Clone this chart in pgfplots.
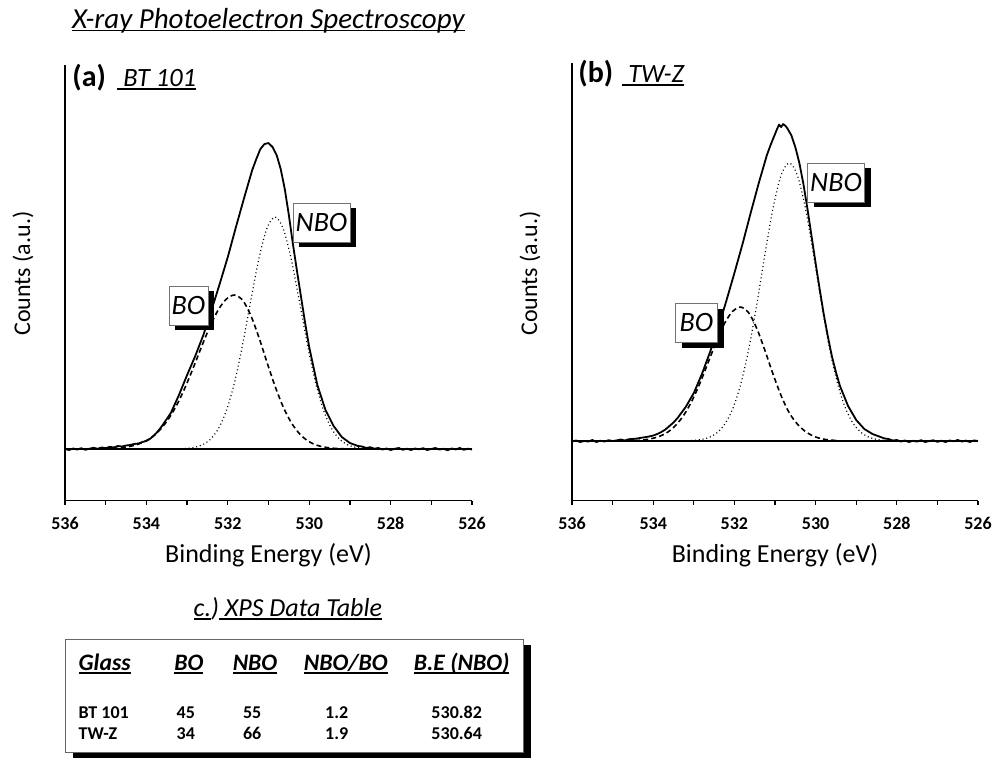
\documentclass[border=0pt]{standalone}
\usepackage{fontspec}
\setmainfont{Carlito}
\usepackage{graphicx}
\usepackage{pgfplots}
\pgfplotsset{compat=1.18}
\newcommand{\fs}[1]{\fontsize{#1}{#1}\selectfont}
% underline: text box plus a rule below the baseline
\newsavebox{\ulbox}
\newcommand{\ul}[1]{\sbox{\ulbox}{#1}\rlap{\usebox{\ulbox}}\rule[-1.6pt]{\wd\ulbox}{0.9pt}}

\pgfplotsset{
  xps/.style={
    scale only axis, x dir=reverse, xmin=526, xmax=536,
    axis x line*=bottom, axis y line*=left,
    axis line style={black, line width=0.8pt, -},
    xtick={526,528,...,536}, minor x tick num=1,
    tick align=outside, major tick length=2.2pt, minor tick length=2pt,
    tick style={black, line width=0.6pt},
    ytick=\empty,
    /pgf/number format/assume math mode=true,
    xticklabel style={font=\fs{9}\bfseries, inner sep=1pt, yshift=-5pt},
    clip=false, no markers,
  },
  total/.style={black, line width=0.9pt, line join=round},
  base/.style={black, line width=0.7pt},
  bo/.style={black, line width=0.8pt, dash pattern=on 2.5pt off 1.6pt, smooth},
  nbo/.style={black, line width=0.6pt, dash pattern=on 0.5pt off 1.4pt, smooth},
}

\begin{document}
\begin{tikzpicture}[x=0.5pt,y=0.5pt]
\useasboundingbox (0,0) rectangle (1004,758);

% ---------------- (a) BT 101
\begin{axis}[xps, at={(32.5pt,128.65pt)}, anchor=south west,
  width=203.5pt, height=217.8pt, ymin=-51.7, ymax=384]
\addplot[base] coordinates {(536,0) (526,0)};
\addplot[bo] coordinates {
(535.03,0.2)(534.83,0.6)(534.63,1.2)(534.43,2.4)(534.23,4.4)(534.03,7.8)
(533.83,13.0)(533.63,20.8)(533.43,31.7)(533.23,45.9)(533.03,63.3)(532.83,83.1)
(532.63,103.8)(532.43,123.3)(532.23,139.5)(532.03,150.2)(531.83,154)(531.63,148.5)
(531.43,133.1)(531.23,110.9)(531.03,85.8)(530.83,61.8)(530.63,41.3)(530.43,25.7)
(530.23,14.9)(530.03,8.0)(529.83,4.0)(529.63,1.9)(529.43,0.8)(529.23,0.3)(529.03,0.1)};
\addplot[nbo] coordinates {
(533.24,0.2)(533.04,0.5)(532.84,1.5)(532.64,3.9)(532.44,9.2)(532.24,19.7)
(532.04,37.8)(531.84,65.8)(531.64,103.6)(531.44,147.4)(531.24,189.6)(531.04,220.6)
(530.84,232)(530.64,220.6)(530.44,189.6)(530.24,147.4)(530.04,103.6)(529.84,65.8)
(529.64,37.8)(529.44,19.7)(529.24,9.2)(529.04,3.9)(528.84,1.5)(528.64,0.5)(528.44,0.2)};
\addplot[total] coordinates {
(536.0,0)(535.9,-1)(535.8,0.5)(535.7,-0.5)(535.6,0.8)(535.5,-0.8)(535.4,0.3)
(535.3,1.2)(535.2,0.2)(535.1,1.5)(535.0,0.8)(534.9,2.2)(534.8,1.5)(534.7,3)
(534.6,2.5)(534.5,3.5)(534.4,4)(534.3,5)(534.2,5.5)(534.1,7)(534.0,8)
(533.9,10.5)(533.8,14)(533.7,18.5)(533.6,24)(533.4,36)(533.2,54)(533.0,74)
(532.8,93)(532.6,114)(532.4,139)(532.2,165)(532.0,192)(531.8,222)(531.6,251)
(531.4,279)(531.3,290)(531.2,300)(531.1,305)(531.0,306)(530.9,302)(530.8,294)
(530.7,280)(530.6,260)(530.5,234)(530.4,205)(530.3,178)(530.2,152)(530.1,126)
(530.0,102)(529.8,64)(529.6,39)(529.4,23)(529.2,12)(529.0,6)(528.9,4.5)
(528.8,3)(528.7,2.5)(528.6,1)(528.5,1.8)(528.4,0.3)(528.3,1)(528.2,-0.5)
(528.1,0.5)(528.0,-1)(527.9,0.2)(527.8,1)(527.7,-0.8)(527.6,0.3)(527.5,-1)
(527.4,0.5)(527.3,-0.3)(527.2,0.8)(527.1,-1)(527.0,0)(526.9,1)(526.8,-0.5)
(526.7,0.2)(526.6,-1.2)(526.5,0.5)(526.4,-0.4)(526.3,1)(526.2,-0.8)(526.1,0.3)(526.0,-0.5)};
\end{axis}

% ---------------- (b) TW-Z
\begin{axis}[xps, at={(286pt,128.65pt)}, anchor=south west,
  width=203pt, height=218.8pt, ymin=-59.7, ymax=378]
\addplot[base] coordinates {(536,0) (526,0)};
\addplot[bo] coordinates {
(534.65,0.2)(534.45,0.45)(534.25,1.0)(534.05,2.3)(533.85,4.6)(533.65,8.7)
(533.45,15.5)(533.25,25.7)(533.05,39.8)(532.85,57.7)(532.65,78.1)(532.45,98.9)
(532.25,117.1)(532.05,129.5)(531.85,134)(531.65,128.3)(531.45,112.7)(531.25,90.8)
(531.05,67.1)(530.85,45.4)(530.65,28.2)(530.45,17)(530.25,9.5)(530.05,4.8)
(529.85,2.2)(529.65,1.0)(529.45,0.4)};
\addplot[nbo] coordinates {
(533.25,0.15)(533.05,0.5)(532.85,1.3)(532.65,3.2)(532.45,7.5)(532.25,16.1)
(532.05,31.3)(531.85,55.9)(531.65,91.3)(531.45,136.3)(531.25,186.2)(531.05,232.6)
(530.85,265.9)(530.65,278)(530.45,265.9)(530.25,232.6)(530.05,186.2)(529.85,136.3)
(529.65,91.3)(529.45,55.9)(529.25,31.3)(529.05,16.1)(528.85,7.5)(528.65,3.2)
(528.45,1.3)(528.25,0.5)(528.05,0.15)};
\addplot[total] coordinates {
(536.0,-0.5)(535.9,0.5)(535.8,-1)(535.7,0)(535.6,-0.5)(535.5,1)(535.4,-1)
(535.3,0.3)(535.2,-0.5)(535.1,0.8)(535.0,0)(534.9,0.6)(534.8,1.5)(534.7,0.5)
(534.6,1.8)(534.5,2)(534.4,2.5)(534.3,3.2)(534.2,3.8)(534.1,4.5)(534.0,5.5)
(533.9,7)(533.8,9)(533.7,11.5)(533.6,15)(533.5,18.5)(533.4,23)(533.2,34)
(533.0,48)(532.8,67)(532.6,89)(532.4,113)(532.2,140)(532.0,168)(531.8,197)
(531.6,228)(531.4,258)(531.2,286)(531.1,297)(531.0,307)(530.95,312)(530.9,316.5)
(530.85,314)(530.8,317)(530.75,315.5)(530.7,313)(530.6,306)(530.5,294)(530.4,278)
(530.3,257)(530.2,232)(530.1,205)(530.0,178)(529.9,152)(529.8,127)(529.7,105)
(529.6,85)(529.5,69)(529.4,55)(529.2,35)(529.0,21)(528.8,12)(528.6,7)
(528.4,4)(528.3,2.5)(528.2,2)(528.1,0.5)(528.0,1)(527.9,-0.5)(527.8,0.5)
(527.7,-1)(527.6,0.2)(527.5,-0.6)(527.4,0.8)(527.3,-1)(527.2,0)(527.1,0.7)
(527.0,-0.8)(526.9,0.3)(526.8,-1)(526.7,0.5)(526.6,-0.3)(526.5,1)(526.4,-0.5)
(526.3,0.4)(526.2,-1)(526.1,0.6)(526.0,0)};
\end{axis}

% ---------------- titles and labels
\node[anchor=base west, font=\fs{14.5}\itshape, inner sep=0pt] at (71.7,729.7)
  {\ul{X-ray Photoelectron Spectroscopy}};
\node[anchor=base west, font=\fs{15}\bfseries, inner sep=0pt] at (72,671) {(a)};
\node[anchor=base west, font=\fs{13.2}\itshape, inner sep=0pt] at (117,671) {\ul{~BT 101}};
\node[anchor=base west, font=\fs{15}\bfseries, inner sep=0pt] at (578,675.5) {(b)};
\node[anchor=base west, font=\fs{13.2}\itshape, inner sep=0pt] at (622,675.5) {\ul{~TW-Z}};

\node[anchor=base, rotate=90, font=\fs{12}, inner sep=0pt] at (30,484.5) {Counts (a.u.)};
\node[anchor=base, rotate=90, font=\fs{12}, inner sep=0pt] at (537,484.5) {Counts (a.u.)};
\node[anchor=base, font=\fs{13}, inner sep=0pt] at (268.5,195.3) {Binding Energy (eV)};
\node[anchor=base, font=\fs{13}, inner sep=0pt] at (775,195.3) {Binding Energy (eV)};

% peak labels with drop shadows
\tikzset{lbl/.style={draw=black!55, line width=0.4pt, fill=white, font=\fs{14}\itshape,
  inner sep=0pt, minimum height=19.5pt},
  shd/.style={fill=black, inner sep=0pt, minimum height=19.5pt}}
\node[shd, minimum width=19.5pt] at (194.5,447) {};
\node[lbl, minimum width=19.5pt] at (188.5,452.5) {BO};
\node[shd, minimum width=28.5pt] at (327.5,530) {};
\node[lbl, minimum width=28.5pt] at (321.5,535.5) {NBO};
\node[shd, minimum width=21pt] at (702.5,429.7) {};
\node[lbl, minimum width=21pt] at (696.5,435.2) {BO};
\node[shd, minimum width=28.5pt] at (842,570) {};
\node[lbl, minimum width=28.5pt] at (836,575.5) {NBO};

% ---------------- (c) table
\node[anchor=base west, font=\fs{13}\itshape, inner sep=0pt] at (193.3,141.3)
  {\ul{c.})\ul{~XPS Data Table}};
\fill[black] (73,112.7) rectangle (531.3,-1);
\filldraw[fill=white, draw=black!60, line width=0.5pt] (65,118.7) rectangle (523.3,5.3);
\begin{scope}[every node/.style={font=\fs{11.8}\bfseries\itshape, inner sep=0pt, anchor=base}]
\node[anchor=base west] at (78.3,87.3) {\ul{Glass}};
\node at (188.8,87.3) {\ul{BO}};
\node at (255,87.3) {\ul{NBO}};
\node at (345.8,87.3) {\ul{NBO/BO}};
\node at (461.7,87.3) {\ul{B.E (NBO)}};
\end{scope}
\begin{scope}[every node/.style={font=\fs{9}\bfseries, inner sep=0pt, anchor=base}]
\node[anchor=base west] at (78.3,39.7) {BT 101};
\node at (185.8,39.7) {45};
\node at (252.2,39.7) {55};
\node at (336.7,39.7) {1.2};
\node at (456.7,39.7) {530.82};
\node[anchor=base west] at (78.3,18) {TW-Z};
\node at (185.8,18) {34};
\node at (252.2,18) {66};
\node at (336.7,18) {1.9};
\node at (456.7,18) {530.64};
\end{scope}
\end{tikzpicture}
\end{document}
